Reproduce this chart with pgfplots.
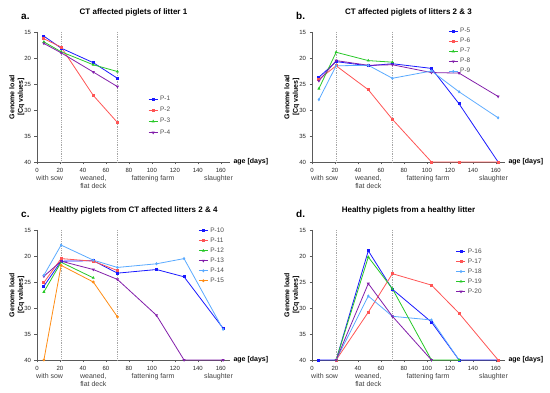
\documentclass[border=0pt]{standalone}
\usepackage{fontspec}
\setmainfont{Liberation Sans}
\usepackage{pgfplots}
\pgfplotsset{compat=1.18}
\definecolor{cb}{RGB}{25,25,255}
\definecolor{cr}{RGB}{255,85,85}
\definecolor{cg}{RGB}{40,200,40}
\definecolor{cp}{RGB}{130,30,170}
\definecolor{cl}{RGB}{90,170,255}
\definecolor{co}{RGB}{255,140,20}
\definecolor{axg}{RGB}{90,90,90}
\pgfplotsset{panel/.style={
  scale only axis, width=193pt, height=130pt,
  xmin=0, xmax=168, ymin=15, ymax=40, y dir=reverse,
  axis x line=bottom, axis y line=left,
  axis line style={color=axg, line width=0.8pt, -},
  xtick={0,20,...,160}, ytick={15,20,...,40},
  tick align=outside, tick style={color=axg, line width=0.6pt},
  major tick length=2.5pt,
  ticklabel style={font=\fontsize{6}{7}\selectfont, color=black!85},
  /pgf/number format/assume math mode=true,
  ylabel={Genome load\\{[Cq values]}},
  ylabel style={font=\bfseries\fontsize{7}{8.5}\selectfont, align=center, at={(axis description cs:-0.105,0.5)}, anchor=center},
  title style={font=\bfseries\fontsize{8}{9}\selectfont, at={(axis description cs:0.5,1)}, anchor=south, yshift=6pt},
  legend style={draw=none, fill=none, font=\fontsize{6.5}{7.5}\selectfont, text=black!70, row sep=0pt},
  legend cell align=left,
  legend image code/.code={\draw[mark repeat=2, mark phase=2] plot coordinates {(0pt,0pt) (4.5pt,0pt) (9pt,0pt)};},
  every axis plot/.append style={line width=0.8pt, mark size=1pt},
  clip=false,
}}
\tikzset{catlab/.style={font=\fontsize{7}{8}\selectfont, text=black!75, align=center, anchor=north}}
\newcommand{\decor}[1]{%
  \addplot[forget plot, black!35, densely dotted, line width=0.6pt, mark=none] coordinates {(21,15) (21,40)};
  \addplot[forget plot, black!35, densely dotted, line width=0.6pt, mark=none] coordinates {(70,15) (70,40)};
  \node[catlab] at (axis cs:11,40) [yshift=-10pt] {with sow};
  \node[catlab] at (axis cs:49,40) [yshift=-10pt] {weaned,\\flat deck};
  \node[catlab] at (axis cs:101,40) [yshift=-10pt] {fattening farm};
  \node[catlab] at (axis cs:158,40) [yshift=-10pt] {slaughter};
  \node[anchor=west, font=\bfseries\fontsize{7}{8}\selectfont] at (axis cs:168,40) {age [days]};
  \node[anchor=west, font=\bfseries\fontsize{10}{11}\selectfont] at (axis description cs:-0.1,1.12) {#1};
}
\begin{document}
\begin{tikzpicture}[x=1pt,y=1pt]
\path[use as bounding box] (0,0) rectangle (550,393);
% panel a
\begin{axis}[panel, at={(37pt,231pt)}, anchor=south west,
  title={CT affected piglets of litter 1},
  legend style={at={(axis description cs:0.56,0.54)}, anchor=north west, row sep=1.2pt}]
\addplot[cb, mark=square*] coordinates {(6,15.8) (21,18.1) (49,20.9) (70,23.9)};
\addplot[cr, mark=square*] coordinates {(6,16.3) (21,17.9) (49,27.2) (70,32.4)};
\addplot[cg, mark=triangle*] coordinates {(6,16.9) (21,18.8) (49,21.3) (70,22.6)};
\addplot[cp, mark=triangle*, mark options={rotate=180}] coordinates {(6,17.2) (21,19.0) (49,22.7) (70,25.5)};
\legend{P-1,P-2,P-3,P-4}
\decor{a.}
\end{axis}
% panel b
\begin{axis}[panel, at={(312pt,231pt)}, anchor=south west,
  title={CT affected piglets of litters 2 \& 3},
  legend style={at={(axis description cs:0.69,1.06)}, anchor=north west}]
\addplot[cb, mark=square*] coordinates {(6,23.7) (21,20.7) (49,21.5) (70,21.1) (104,22.0) (128,28.8) (162,40)};
\addplot[cr, mark=square*] coordinates {(6,24.1) (21,21.5) (49,26.1) (70,31.8) (104,40) (128,40) (162,40)};
\addplot[cg, mark=triangle*] coordinates {(6,25.9) (21,18.9) (49,20.5) (70,20.8)};
\addplot[cp, mark=triangle*, mark options={rotate=180}] coordinates {(6,24.4) (21,20.5) (49,21.4) (70,21.3) (104,22.8) (128,22.9) (162,27.4)};
\addplot[cl, mark=diamond*] coordinates {(6,28.0) (21,21.5) (49,21.4) (70,23.9) (104,22.5) (128,26.5) (162,31.5)};
\legend{P-5,P-6,P-7,P-8,P-9}
\decor{b.}
\end{axis}
% panel c
\begin{axis}[panel, at={(37pt,33pt)}, anchor=south west,
  title={Healthy piglets from CT affected litters 2 \& 4},
  legend style={at={(axis description cs:0.82,1.05)}, anchor=north west}]
\addplot[cb, mark=square*] coordinates {(6,25.8) (21,21.0) (49,20.9) (70,23.3) (104,22.6) (128,24.0) (162,33.9)};
\addplot[cr, mark=square*] coordinates {(6,25.1) (21,20.5) (49,21.0) (70,22.8)};
\addplot[cg, mark=triangle*] coordinates {(6,26.9) (21,21.2) (49,24.2)};
\addplot[cp, mark=triangle*, mark options={rotate=180}] coordinates {(6,23.9) (21,21.0) (49,22.6) (70,24.5) (104,31.4) (128,40) (162,40)};
\addplot[cl, mark=diamond*] coordinates {(6,23.7) (21,17.9) (49,20.8) (70,22.2) (104,21.5) (128,20.5) (162,34.1)};
\addplot[co, mark=*] coordinates {(6,40) (21,21.8) (49,25.0) (70,31.7)};
\legend{P-10,P-11,P-12,P-13,P-14,P-15}
\decor{c.}
\end{axis}
% panel d
\begin{axis}[panel, at={(312pt,33pt)}, anchor=south west,
  title={Healthy piglets from a healthy litter},
  legend style={at={(axis description cs:0.73,0.89)}, anchor=north west}]
\addplot[cb, mark=square*] coordinates {(6,40) (21,40) (49,19.0) (70,26.4) (104,32.7) (128,40) (162,40)};
\addplot[cr, mark=square*] coordinates {(21,40) (49,30.8) (70,23.4) (104,25.6) (128,31.0) (162,40)};
\addplot[cl, mark=diamond*] coordinates {(21,40) (49,27.7) (70,31.6) (104,32.3) (128,40)};
\addplot[cg, mark=triangle*] coordinates {(21,40) (49,20.2) (70,26.3) (104,40) (128,40)};
\addplot[cp, mark=triangle*, mark options={rotate=180}] coordinates {(21,40) (49,25.3) (70,31.6) (104,40)};
\legend{P-16,P-17,P-18,P-19,P-20}
\decor{d.}
\end{axis}
\end{tikzpicture}
\end{document}
